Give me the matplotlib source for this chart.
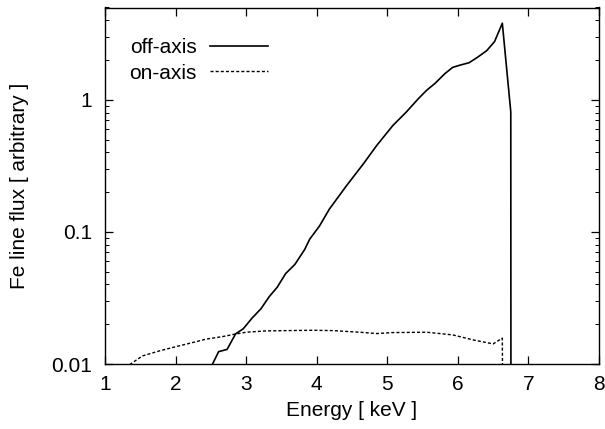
import matplotlib
matplotlib.use("Agg")
import matplotlib.pyplot as plt
from matplotlib.ticker import FixedLocator, FuncFormatter, LogLocator, NullFormatter

plt.rcParams['font.family'] = ['Liberation Sans', 'DejaVu Sans']

# off-axis (solid)
off_energy = [2.52, 2.61, 2.73, 2.85, 2.96, 3.085, 3.21, 3.33, 3.44, 3.56, 3.69, 3.83,
              3.90, 4.04, 4.18, 4.42, 4.66, 4.85, 5.08, 5.27, 5.44, 5.557, 5.675, 5.817,
              5.926, 6.03, 6.16, 6.29, 6.41, 6.52, 6.63, 6.75, 6.755]
off_flux = [0.0099, 0.0124, 0.0129, 0.0169, 0.0185, 0.0223, 0.0262, 0.0325, 0.0381, 0.0484,
            0.0567, 0.0737, 0.088, 0.111, 0.149, 0.223, 0.327, 0.451, 0.640, 0.809, 1.02,
            1.18, 1.33, 1.58, 1.76, 1.83, 1.91, 2.12, 2.36, 2.76, 3.80, 0.81, 0.00001]

# on-axis (dashed)
on_energy = [1.35, 1.53, 1.77, 2.01, 2.24, 2.43, 2.67, 2.86, 3.0, 3.28, 3.57, 3.95, 4.23,
             4.61, 4.85, 5.08, 5.56, 5.93, 6.22, 6.50, 6.63, 6.665]
on_flux = [0.0099, 0.01151, 0.01256, 0.01355, 0.01452, 0.01542, 0.01614, 0.0169, 0.0174,
           0.0178, 0.0179, 0.0180, 0.0179, 0.0174, 0.0170, 0.0173, 0.0174, 0.0166, 0.0152,
           0.0142, 0.0157, 0.00001]

x_ticks = [1, 2, 3, 4, 5, 6, 7, 8]
y_ticks = [0.01, 0.1, 1]

FS = 15

fig = plt.figure(figsize=(6.05, 4.29), dpi=100)
ax = fig.add_axes([105 / 605, 1 - 364 / 429, (599 - 105) / 605, (364 - 7.5) / 429])

ax.plot(off_energy, off_flux, color='black', lw=1.2, label='off-axis')
ax.plot(on_energy, on_flux, color='black', lw=1.0, linestyle=(0, (2.2, 1.5)), label='on-axis')

ax.set_yscale('log')
ax.set_xlim(1, 8)
ax.set_ylim(0.01, 5)
ax.xaxis.set_major_locator(FixedLocator(x_ticks))
ax.yaxis.set_major_locator(FixedLocator(y_ticks))
ax.yaxis.set_major_formatter(FuncFormatter(lambda v, p: '%g' % v))
ax.yaxis.set_minor_locator(LogLocator(base=10, subs=range(2, 10)))
ax.yaxis.set_minor_formatter(NullFormatter())

ax.tick_params(which='both', direction='in', top=True, right=True, labelsize=FS)
ax.tick_params(axis='x', pad=8)
ax.tick_params(axis='y', pad=9)
ax.tick_params(which='major', length=5.5, width=0.9)
ax.tick_params(which='minor', length=3, width=0.7)
for s in ax.spines.values():
    s.set_linewidth(1.0)

ax.set_xlabel('Energy [ keV ]', fontsize=FS, labelpad=5)
ax.set_ylabel('Fe line flux [ arbitrary ]', fontsize=FS, labelpad=16)

ax.legend(loc='upper left', bbox_to_anchor=(0.032, 0.937), markerfirst=False, frameon=False,
          handlelength=2.74, handletextpad=0.67, fontsize=FS, labelspacing=0.3,
          borderaxespad=0)

fig.savefig('out.png', dpi=100)
